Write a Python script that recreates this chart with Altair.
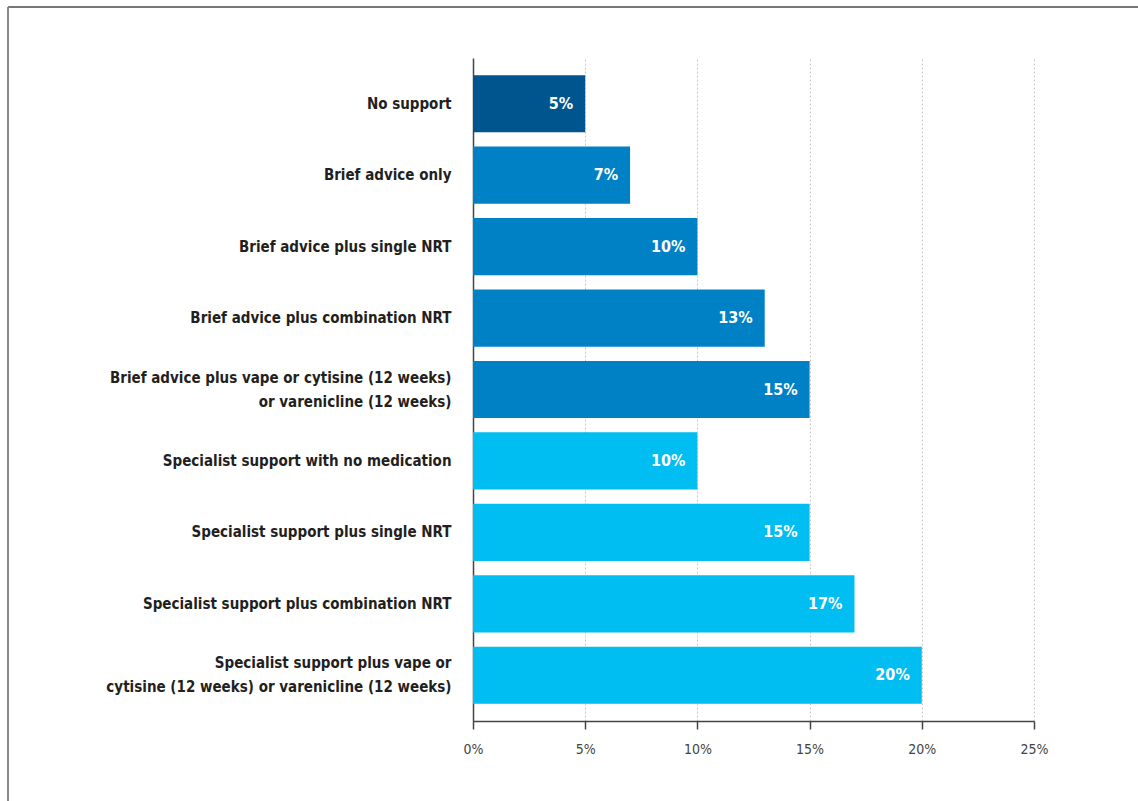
import altair as alt
import pandas as pd

categories = [
    "No support",
    "Brief advice only",
    "Brief advice plus single NRT",
    "Brief advice plus combination NRT",
    "Brief advice plus vape or cytisine (12 weeks)|or varenicline (12 weeks)",
    "Specialist support with no medication",
    "Specialist support plus single NRT",
    "Specialist support plus combination NRT",
    "Specialist support plus vape or|cytisine (12 weeks) or varenicline (12 weeks)",
]
values = [5, 7, 10, 13, 15, 10, 15, 17, 20]
groups = ["none", "brief", "brief", "brief", "brief",
          "specialist", "specialist", "specialist", "specialist"]
group_domain = ["none", "brief", "specialist"]
group_colors = ["#00558f", "#0081c6", "#00bdf2"]
x_ticks = [0, 5, 10, 15, 20, 25]

df = pd.DataFrame({"category": categories, "value": values, "group": groups})
df["label"] = df["value"].astype(str) + "%"

FONT = "'DejaVu Sans Condensed', 'Roboto Condensed', Roboto, sans-serif"

y_enc = alt.Y(
    "category:N",
    sort=categories,
    scale=alt.Scale(paddingInner=0.2, paddingOuter=0.24),
    axis=alt.Axis(
        title=None,
        ticks=False,
        labelExpr="split(datum.label, '|')",
        labelFont=FONT,
        labelFontSize=15,
        labelFontWeight="bold",
        labelColor="#231f20",
        labelPadding=22,
        labelLineHeight=24,
        labelLimit=400,
        labelOffset={"condition": {"test": "indexof(datum.value, '|') >= 0", "value": -12}, "value": 0},
        domainColor="#444444",
        domainWidth=1.5,
        grid=False,
    ),
)

x_enc = alt.X(
    "value:Q",
    scale=alt.Scale(domain=[0, 25], nice=False),
    axis=alt.Axis(
        title=None,
        values=x_ticks,
        labelExpr="datum.value + '%'",
        labelFont=FONT,
        labelFontSize=14,
        labelColor="#444444",
        labelPadding=13,
        labelFlush=False,
        tickSize=8,
        tickColor="#444444",
        tickWidth=1.5,
        domainColor="#444444",
        domainWidth=1.5,
        grid=True,
        gridColor="#c8c8c8",
        gridDash=[2, 2],
        gridWidth=1,
    ),
)

bars = alt.Chart(df).mark_bar().encode(
    x=x_enc,
    y=y_enc,
    color=alt.Color("group:N", scale=alt.Scale(domain=group_domain, range=group_colors), legend=None),
)

text = alt.Chart(df).mark_text(
    align="right", baseline="middle", dx=-12, color="white",
    font=FONT, fontSize=16, fontWeight="bold",
).encode(
    x="value:Q",
    y=alt.Y("category:N", sort=categories),
    text="label:N",
)

frame_top = alt.Chart(df).mark_rule(color="#777777", strokeWidth=2).encode(
    x=alt.value(-465), x2=alt.value(665), y=alt.value(-51)
)
frame_left = alt.Chart(df).mark_rule(color="#888888", strokeWidth=2).encode(
    x=alt.value(-465), y=alt.value(-51), y2=alt.value(743)
)

chart = alt.layer(bars, text, frame_top, frame_left).properties(
    width=561,
    height=663,
    autosize=alt.AutoSizeParams(type="none"),
    padding={"left": 473, "top": 58, "right": 104, "bottom": 80},
    background="white",
).configure_view(stroke=None)

chart.save("out.html", embed_options={"renderer": "svg", "actions": False})
